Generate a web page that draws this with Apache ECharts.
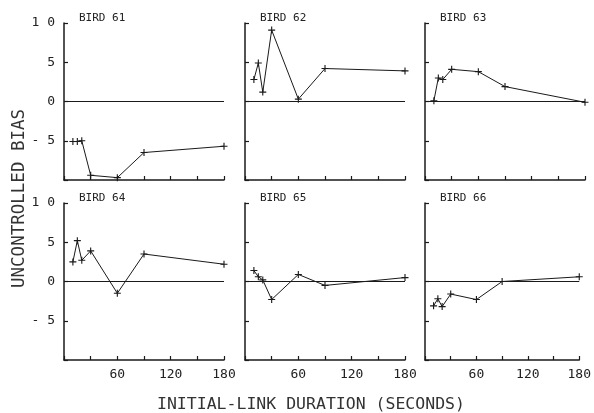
<!DOCTYPE html>
<html>
<head>
<meta charset="utf-8">
<script src="https://cdn.jsdelivr.net/npm/echarts@6/dist/echarts.min.js"></script>
<style>
html,body{margin:0;padding:0;background:#fff;}
#c{width:594px;height:413px;}
</style>
</head>
<body>
<div id="c"></div>
<script>
// ---- data ----
var durations = [10, 15, 20, 30, 60, 90, 180];
var birdNames = ['BIRD 61', 'BIRD 62', 'BIRD 63', 'BIRD 64', 'BIRD 65', 'BIRD 66'];
var bird61 = [-5.1, -5.1, -5.0, -9.4, -9.7, -6.5, -5.7];
var bird62 = [2.8, 4.9, 1.2, 9.1, 0.3, 4.2, 3.9];
var bird63 = [0.1, 3.0, 2.8, 4.1, 3.8, 1.9, -0.1];
var bird64 = [2.5, 5.2, 2.7, 3.9, -1.5, 3.5, 2.2];
var bird65 = [1.4, 0.6, 0.2, -2.3, 0.9, -0.5, 0.5];
var bird66 = [-3.1, -2.2, -3.2, -1.6, -2.3, 0.0, 0.6];
var xTickLabels = ['60', '120', '180'];
var yTickLabels = {'10': '1 0', '5': '5', '0': '0', '-5': '- 5'};
var xTitle = 'INITIAL-LINK DURATION (SECONDS)';
var yTitle = 'UNCONTROLLED BIAS';

var allBirds = [bird61, bird62, bird63, bird64, bird65, bird66];
var FONT = '"DejaVu Sans Mono", monospace';
var INK = '#1a1a1a';

var lefts = [64, 245, 425];
var tops = [23, 203];
var W = 160, H = 157;

var grids = [], xAxes = [], yAxes = [], series = [], titles = [];
for (var i = 0; i < 6; i++) {
  var col = i % 3, row = Math.floor(i / 3);
  grids.push({left: lefts[col], top: tops[row], width: W, height: H, containLabel: false});
  xAxes.push({
    gridIndex: i, type: 'value', min: 0, max: 180, interval: 30,
    axisLine: {show: true, onZero: false, lineStyle: {color: INK, width: 1.5}},
    axisTick: {show: true, inside: true, length: 4, lineStyle: {color: INK, width: 1.2}},
    splitLine: {show: false},
    axisLabel: {
      show: row === 1, margin: 8, color: '#222', fontFamily: FONT, fontSize: 13,
      formatter: function (v) { return xTickLabels.indexOf(String(v)) >= 0 ? String(v) : ''; }
    }
  });
  yAxes.push({
    gridIndex: i, type: 'value', min: -10, max: 10, interval: 5,
    axisLine: {show: true, onZero: false, lineStyle: {color: INK, width: 1.5}},
    axisTick: {show: true, inside: true, length: 4, lineStyle: {color: INK, width: 1.2}},
    splitLine: {show: false},
    axisLabel: {
      show: col === 0, margin: 9, color: '#222', fontFamily: FONT, fontSize: 13,
      formatter: function (v) { var s = yTickLabels[String(v)]; return s === undefined ? '' : s; }
    }
  });
  var pts = durations.map(function (d, k) { return [d, allBirds[i][k]]; });
  series.push({
    type: 'line', xAxisIndex: i, yAxisIndex: i, data: pts,
    symbol: 'path://M-1,-0.16H1V0.16H-1Z M-0.16,-1H0.16V1H-0.16Z',
    symbolSize: 7, showSymbol: true,
    itemStyle: {color: INK},
    lineStyle: {color: INK, width: 1},
    animation: false,
    markLine: {
      silent: true, symbol: ['none', 'none'], animation: false,
      label: {show: false},
      lineStyle: {color: INK, width: 1, type: 'solid'},
      data: [{yAxis: 0}]
    }
  });
  titles.push({
    text: birdNames[i], left: lefts[col] + 10, top: tops[row] - 15,
    textStyle: {fontFamily: FONT, fontSize: 11, fontWeight: 'normal', color: '#222'}
  });
}

var chart = echarts.init(document.getElementById('c'), null, {renderer: 'canvas'});
chart.setOption({
  backgroundColor: '#fff',
  animation: false,
  title: titles,
  grid: grids,
  xAxis: xAxes,
  yAxis: yAxes,
  series: series,
  graphic: [
    {
      type: 'text', left: 157, top: 396,
      style: {text: xTitle, fontFamily: FONT, fontSize: 16.5, fill: '#333'}
    },
    {
      type: 'text', x: 10, y: 288, rotation: Math.PI / 2,
      style: {text: yTitle, fontFamily: FONT, fontSize: 17.5, fill: '#333'}
    }
  ]
});
</script>
</body>
</html>
